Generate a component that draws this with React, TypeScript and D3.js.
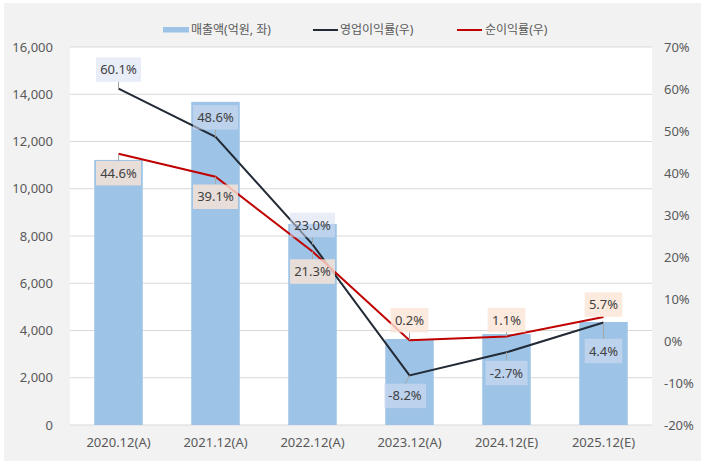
import React from "react";
import * as d3 from "d3";

const categories = ["2020.12(A)", "2021.12(A)", "2022.12(A)", "2023.12(A)", "2024.12(E)", "2025.12(E)"];
const revenue = [11220, 13680, 8510, 3640, 3850, 4360];
const opMargin = [60.1, 48.6, 23.0, -8.2, -2.7, 4.4];
const netMargin = [44.6, 39.1, 21.3, 0.2, 1.1, 5.7];
const leftTicks = [0, 2000, 4000, 6000, 8000, 10000, 12000, 14000, 16000];
const rightTicks = [-20, -10, 0, 10, 20, 30, 40, 50, 60, 70];
const legendLabels = ["매출액(억원, 좌)", "영업이익률(우)", "순이익률(우)"];

// label placement (layout only): pixel offsets of label centre from its point
const opLabelDx = [0, 0, 0, -4.5, 0, 0];
const opLabelDy = [-19, -19.5, -19.4, 20.5, 20.7, 28.5];
const netLabelDx = [0, 0, 0, 0, 0, 0];
const netLabelDy = [19.5, 20, 20, -20, -16.4, -12.5];

const W = 705, H = 466;
const left = 70, right = 652, top = 47, bottom = 425;
const FONT = "'Noto Sans', 'Noto Sans CJK KR', sans-serif";
const BAR = "#9dc3e6";
const DARK = "#222a35";
const RED = "#c00000";
const GRID = "#d9d9d9";
const TXT = "#595959";

function textWidth(s: string) {
  let w = 0;
  for (const c of s) {
    if (c === ".") w += 3.5;
    else if (c === "%") w += 10.7;
    else if (c === "-") w += 4.4;
    else w += 7.45;
  }
  return w;
}

export default function App() {
  const x = d3.scaleBand<string>().domain(categories).range([left, right]).paddingInner(0.5).paddingOuter(0.25);
  const yL = d3.scaleLinear().domain([0, 16000]).range([bottom, top]);
  const yR = d3.scaleLinear().domain([-20, 70]).range([bottom, top]);
  const cx = (i: number) => (x(categories[i]) as number) + x.bandwidth() / 2;
  const line = d3.line<number>().x((_, i) => cx(i)).y((d) => yR(d));
  const fmtL = d3.format(",");

  const labels = (vals: number[], dx: number[], dy: number[], fill: string, op: number) =>
    vals.map((v, i) => {
      const px = cx(i), py = yR(v);
      const lx = px + dx[i], ly = py + dy[i];
      const t = v.toFixed(1) + "%";
      const w = textWidth(t) + 8.5;
      const h = 24.5;
      const edgeY = dy[i] > 0 ? ly - h / 2 : ly + h / 2;
      const gap = Math.abs(edgeY - py);
      return (
        <g key={i}>
          {gap > 4 && (
            <line x1={px} y1={py} x2={lx} y2={edgeY} stroke="#a6a6a6" strokeWidth={1} />
          )}
          <rect x={lx - w / 2} y={ly - h / 2} width={w} height={h} fill={fill} fillOpacity={op} />
          <text x={lx} y={ly} dy="0.35em" textAnchor="middle" fontSize={13} fill="#404040" fontFamily={FONT}>
            {t}
          </text>
        </g>
      );
    });

  return (
    <svg width={W} height={H} style={{ position: "absolute", left: 0, top: 0, background: "#fff" }}>
      <rect x={4} y={3} width={697} height={458} fill="#f2f2f2" />
      <rect x={left} y={top} width={right - left} height={bottom - top} fill="#fff" />
      {leftTicks.map((t) => (
        <g key={t}>
          <line x1={left} x2={right} y1={yL(t)} y2={yL(t)} stroke={GRID} strokeWidth={1} />
          <text x={53} y={yL(t)} dy="0.35em" textAnchor="end" fontSize={13} fill={TXT} fontFamily={FONT}>
            {fmtL(t)}
          </text>
        </g>
      ))}
      {rightTicks.map((t) => (
        <text key={t} x={664} y={yR(t)} dy="0.35em" textAnchor="start" fontSize={13} fill={TXT} fontFamily={FONT}>
          {t + "%"}
        </text>
      ))}
      {categories.map((c, i) => (
        <text key={c} x={cx(i)} y={442} dy="0.35em" textAnchor="middle" fontSize={13} fill={TXT} fontFamily={FONT}>
          {c}
        </text>
      ))}
      {revenue.map((v, i) => (
        <rect key={i} x={x(categories[i])} y={yL(v)} width={x.bandwidth()} height={bottom - yL(v)} fill={BAR} />
      ))}
      <path d={line(opMargin) || ""} fill="none" stroke={DARK} strokeWidth={2} />
      <path d={line(netMargin) || ""} fill="none" stroke={RED} strokeWidth={2} />
      {labels(opMargin, opLabelDx, opLabelDy, "#d6dff2", 0.55)}
      {labels(netMargin, netLabelDx, netLabelDy, "#fbe5d6", 0.8)}
      {/* legend */}
      <rect x={163} y={27} width={26} height={5.5} fill={BAR} />
      <text x={191} y={30} dy="0.35em" fontSize={12} fill={TXT} fontFamily={FONT}>{legendLabels[0]}</text>
      <line x1={313} x2={338} y1={30} y2={30} stroke={DARK} strokeWidth={2} />
      <text x={340} y={30} dy="0.35em" fontSize={12} fill={TXT} fontFamily={FONT}>{legendLabels[1]}</text>
      <line x1={457} x2={482} y1={30} y2={30} stroke={RED} strokeWidth={2} />
      <text x={485} y={30} dy="0.35em" fontSize={12} fill={TXT} fontFamily={FONT}>{legendLabels[2]}</text>
    </svg>
  );
}
